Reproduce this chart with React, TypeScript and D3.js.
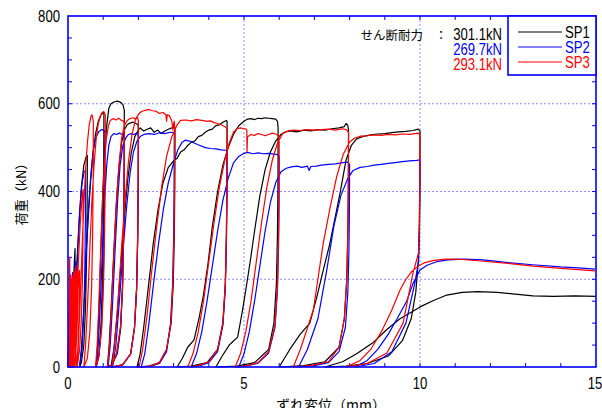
import React from 'react';
import * as d3 from 'd3';

type P = [number, number];

// ---- axis / label data ----
const xTicks = [0, 5, 10, 15];
const yTicks = [0, 200, 400, 600, 800];
const xMinorTicks = [1, 2, 3, 4, 5, 6, 7, 8, 9, 10, 11, 12, 13, 14];
const yMinorTicks = [50, 100, 150, 200, 250, 300, 350, 400, 450, 500, 550, 600, 650, 700, 750];
const xGrid = [5, 10];
const yGrid = [200, 400, 600];
const seriesNames = ['SP1', 'SP2', 'SP3'];
const seriesColors = ['#000000', '#0000ff', '#ff0000'];
const strengthLabel = 'せん断耐力';
const strengthValues = ['301.1kN', '269.7kN', '293.1kN'];
const xTitle = 'ずれ変位（mm）';
const yTitle = '荷重（kN）';

// ---- series: slip (mm), load (kN) ----
const sp1: P[] = [
  [0,0],[0.02,50],[0.04,100],[0.06,140],[0.07,160],[0.065,110],[0.05,50],[0.03,0],
  [0.05,50],[0.08,110],[0.1,160],[0.12,200],[0.115,140],[0.1,70],[0.07,0],
  [0.09,40],[0.12,110],[0.15,180],[0.18,240],[0.2,270],[0.195,190],[0.18,100],[0.14,30],[0.1,0],
  [0.14,50],[0.2,150],[0.26,250],[0.32,340],[0.38,410],[0.45,460],[0.52,480],[0.55,482],[0.545,380],[0.53,260],[0.5,140],[0.45,50],[0.38,10],[0.33,0],
  [0.38,40],[0.44,120],[0.5,220],[0.56,320],[0.63,410],[0.7,480],[0.78,530],[0.86,560],[0.94,575],[1.0,580],[1.02,578],[1.015,450],[1.0,320],[0.98,200],[0.94,100],[0.88,30],[0.8,0],
  [0.84,50],[0.89,150],[0.94,280],[0.99,400],[1.04,490],[1.1,550],[1.16,590],[1.22,600],[1.3,604],[1.4,606],[1.5,603],[1.56,598],[1.6,585],[1.595,450],[1.58,320],[1.55,190],[1.5,90],[1.4,30],[1.25,5],[1.12,0],
  [1.17,50],[1.23,140],[1.3,260],[1.37,370],[1.44,450],[1.52,510],[1.6,540],[1.68,552],[1.76,556],[1.85,558],[1.93,555],[1.99,552],[2.0,540],[1.995,420],[1.98,300],[1.95,180],[1.89,90],[1.78,30],[1.55,5],[1.22,0],
  [1.3,40],[1.4,120],[1.5,230],[1.6,340],[1.7,430],[1.8,490],[1.9,525],[2.0,540],[2.05,545],[2.15,538],[2.25,542],[2.35,545],[2.45,535],[2.55,540],[2.65,532],[2.75,538],[2.85,542],[2.95,545],[3.02,548],[3.04,540],[3.035,420],[3.02,300],[2.99,190],[2.93,100],[2.8,40],[2.6,10],[2.3,2],[1.96,0],
  [2.05,30],[2.15,90],[2.28,180],[2.42,280],[2.56,360],[2.7,420],[2.85,455],[3.0,470],[3.1,476],[3.2,490],[3.3,495],[3.4,505],[3.5,512],[3.6,515],[3.7,525],[3.8,528],[3.9,535],[4.0,540],[4.1,542],[4.2,550],[4.3,552],[4.4,558],[4.5,562],[4.52,560],[4.515,430],[4.5,300],[4.47,190],[4.4,100],[4.25,40],[3.95,10],[3.5,2],[3.1,0],
  [3.25,20],[3.4,45],[3.58,62],[3.72,110],[3.85,165],[3.98,237],[4.1,320],[4.25,400],[4.4,460],[4.55,500],[4.7,530],[4.85,550],[5.0,560],[5.1,565],[5.2,566],[5.3,564],[5.4,567],[5.5,566],[5.6,568],[5.7,567],[5.8,566],[5.9,565],[5.95,560],[5.97,545],[5.965,420],[5.95,300],[5.92,190],[5.85,100],[5.7,40],[5.3,10],[4.8,2],[4.2,0],
  [4.38,25],[4.58,50],[4.82,68],[4.96,130],[5.06,180],[5.17,237],[5.3,310],[5.45,390],[5.6,450],[5.75,490],[5.9,515],[6.05,530],[6.15,535],[6.3,538],[6.5,536],[6.7,540],[6.9,538],[7.1,541],[7.3,540],[7.5,543],[7.7,545],[7.85,548],[7.9,555],[7.95,550],[7.97,540],[7.965,420],[7.95,310],[7.92,200],[7.85,110],[7.7,45],[7.3,12],[6.7,3],[6.0,0],
  [6.3,40],[6.6,75],[6.87,100],[7.07,160],[7.25,220],[7.44,282],[7.6,345],[7.73,397],[7.9,472],[8.05,505],[8.2,520],[8.4,526],[8.6,529],[8.8,531],[9.0,532],[9.2,534],[9.4,536],[9.6,537],[9.8,539],[9.95,542],[10.0,538],[9.995,420],[9.98,320],[9.95,240],[9.88,170],[9.75,110],[9.5,60],[9.1,25],[8.5,8],[7.9,2],[7.3,0],
  [7.8,12],[8.2,30],[8.66,55],[9.05,85],[9.43,110],[9.75,125],[10.0,137],[10.4,152],[10.76,164],[11.2,170],[11.65,172],[12.2,170],[12.7,166],[13.21,162],[13.8,161],[14.4,162],[15.0,161],
];

const sp2: P[] = [
  [0,0],[0.02,60],[0.04,120],[0.06,170],[0.07,190],[0.065,130],[0.05,60],[0.03,0],
  [0.05,60],[0.08,130],[0.11,190],[0.13,215],[0.12,150],[0.1,70],[0.07,0],
  [0.1,60],[0.14,140],[0.18,210],[0.21,240],[0.2,170],[0.17,80],[0.13,0],
  [0.17,60],[0.22,160],[0.28,270],[0.34,360],[0.4,420],[0.46,445],[0.5,448],[0.495,340],[0.48,230],[0.45,120],[0.4,40],[0.33,0],
  [0.4,50],[0.46,150],[0.52,260],[0.58,360],[0.65,440],[0.72,495],[0.8,525],[0.88,537],[0.95,541],[1.02,540],[1.05,535],[1.045,420],[1.03,300],[1.0,190],[0.95,90],[0.88,25],[0.8,0],
  [0.86,50],[0.92,150],[0.98,270],[1.04,380],[1.1,460],[1.16,505],[1.22,525],[1.3,532],[1.38,530],[1.46,533],[1.54,530],[1.6,525],[1.595,410],[1.58,290],[1.55,180],[1.49,90],[1.38,30],[1.25,5],[1.14,0],
  [1.2,50],[1.27,150],[1.34,270],[1.41,380],[1.48,460],[1.56,505],[1.64,522],[1.72,530],[1.8,532],[1.88,530],[1.95,533],[2.0,528],[1.995,410],[1.98,290],[1.95,180],[1.89,90],[1.78,30],[1.55,5],[1.27,0],
  [1.36,50],[1.46,150],[1.56,260],[1.66,360],[1.76,440],[1.86,490],[1.96,515],[2.06,526],[2.16,530],[2.3,532],[2.45,530],[2.6,534],[2.75,532],[2.9,535],[2.98,534],[3.02,530],[3.015,410],[3.0,290],[2.97,185],[2.91,95],[2.8,35],[2.6,8],[2.35,2],[2.08,0],
  [2.18,30],[2.3,100],[2.43,190],[2.57,280],[2.71,360],[2.85,420],[3.0,465],[3.12,495],[3.24,512],[3.33,517],[3.45,515],[3.6,510],[3.75,505],[3.9,500],[4.05,498],[4.2,497],[4.35,495],[4.5,494],[4.52,490],[4.515,380],[4.5,280],[4.47,180],[4.4,95],[4.25,35],[4.0,10],[3.75,3],[3.5,0],
  [3.65,30],[3.8,80],[3.95,150],[4.1,230],[4.25,310],[4.4,380],[4.55,430],[4.7,465],[4.85,480],[5.0,487],[5.1,489],[5.25,486],[5.4,488],[5.55,486],[5.7,487],[5.85,485],[5.95,484],[6.0,480],[5.995,370],[5.98,270],[5.95,175],[5.88,90],[5.7,32],[5.4,9],[5.1,3],[4.85,0],
  [5.0,30],[5.15,80],[5.3,150],[5.45,230],[5.6,310],[5.75,375],[5.9,420],[6.05,445],[6.2,453],[6.35,456],[6.5,458],[6.65,455],[6.8,458],[6.85,448],[6.9,457],[7.05,458],[7.2,460],[7.4,462],[7.6,463],[7.8,466],[7.95,467],[8.0,462],[7.995,360],[7.98,260],[7.95,170],[7.88,90],[7.7,35],[7.4,10],[7.0,3],[6.55,0],
  [6.8,40],[7.1,110],[7.35,220],[7.55,320],[7.75,390],[7.95,430],[8.1,448],[8.3,455],[8.5,457],[8.7,460],[8.9,462],[9.1,464],[9.3,466],[9.5,468],[9.7,470],[9.9,471],[10.0,472],[9.995,380],[9.985,300],[9.96,240],[9.85,190],[9.6,100],[9.2,35],[8.7,8],[8.15,0],
  [8.5,15],[8.8,40],[9.1,75],[9.35,110],[9.62,150],[9.8,190],[10.0,221],[10.2,232],[10.47,240],[10.8,244],[11.22,246],[11.8,244],[12.5,238],[13.2,233],[14.0,228],[14.5,226],[14.97,223],
];

const sp3: P[] = [
  [0,0],[0.01,40],[0.02,80],[0.03,120],[0.04,160],[0.05,195],[0.045,140],[0.035,80],[0.02,20],[0.01,0],
  [0.02,30],[0.03,90],[0.04,150],[0.045,230],[0.05,250],[0.048,170],[0.04,90],[0.025,10],[0.015,0],
  [0.03,60],[0.05,130],[0.07,190],[0.08,210],[0.075,150],[0.06,80],[0.04,20],[0.03,0],
  [0.04,40],[0.06,100],[0.09,170],[0.1,200],[0.095,130],[0.08,60],[0.06,0],
  [0.05,50],[0.08,120],[0.11,180],[0.13,205],[0.12,140],[0.1,70],[0.08,20],[0.06,0],
  [0.07,50],[0.1,120],[0.13,180],[0.15,210],[0.145,140],[0.12,60],[0.1,0],
  [0.08,60],[0.11,130],[0.14,190],[0.17,215],[0.16,150],[0.14,80],[0.11,20],[0.09,0],
  [0.1,50],[0.13,120],[0.17,190],[0.2,220],[0.19,150],[0.17,70],[0.14,0],
  [0.12,70],[0.16,150],[0.2,210],[0.23,230],[0.22,160],[0.19,80],[0.15,20],[0.12,0],
  [0.15,60],[0.2,150],[0.25,210],[0.29,225],[0.28,150],[0.25,70],[0.2,15],[0.16,0],
  [0.18,50],[0.21,120],[0.25,190],[0.28,230],[0.27,150],[0.24,60],[0.2,0],
  [0.22,60],[0.26,140],[0.3,200],[0.33,220],[0.32,140],[0.29,60],[0.25,0],
  [0.2,60],[0.25,150],[0.3,250],[0.35,330],[0.4,390],[0.43,405],[0.425,300],[0.41,200],[0.38,110],[0.33,40],[0.26,0],
  [0.3,60],[0.35,160],[0.4,270],[0.45,370],[0.5,450],[0.55,510],[0.6,550],[0.65,570],[0.68,575],[0.7,568],[0.72,560],[0.715,430],[0.7,300],[0.67,180],[0.62,80],[0.55,20],[0.45,0],
  [0.5,50],[0.56,150],[0.62,270],[0.68,380],[0.74,460],[0.8,520],[0.86,555],[0.92,572],[0.97,580],[1.02,582],[1.06,575],[1.055,440],[1.04,310],[1.01,190],[0.96,90],[0.88,25],[0.78,0],
  [0.83,50],[0.88,150],[0.93,270],[0.98,380],[1.03,460],[1.09,520],[1.15,550],[1.2,562],[1.28,566],[1.36,563],[1.44,567],[1.52,562],[1.58,560],[1.6,555],[1.595,430],[1.58,300],[1.55,180],[1.49,90],[1.38,30],[1.25,5],[1.12,0],
  [1.18,50],[1.24,150],[1.31,270],[1.38,380],[1.45,460],[1.52,520],[1.6,550],[1.68,562],[1.76,566],[1.85,568],[1.93,565],[1.98,568],[2.0,560],[1.995,430],[1.98,300],[1.95,180],[1.89,90],[1.78,30],[1.55,5],[1.25,0],
  [1.32,50],[1.42,150],[1.52,270],[1.62,380],[1.72,470],[1.82,530],[1.92,565],[2.02,578],[2.1,583],[2.2,585],[2.3,587],[2.4,584],[2.5,583],[2.6,578],[2.7,580],[2.78,575],[2.8,560],[2.82,575],[2.88,573],[2.95,560],[2.98,540],[3.0,555],[3.02,560],[3.03,545],[3.025,420],[3.01,300],[2.98,190],[2.92,100],[2.8,40],[2.6,10],[2.35,2],[2.02,0],
  [2.12,40],[2.25,120],[2.38,220],[2.52,320],[2.66,410],[2.8,480],[2.95,525],[3.1,552],[3.2,562],[3.35,563],[3.5,561],[3.65,564],[3.8,562],[3.95,560],[4.05,561],[4.15,557],[4.25,555],[4.35,552],[4.45,548],[4.5,545],[4.52,540],[4.515,420],[4.5,300],[4.47,190],[4.4,100],[4.25,40],[4.0,12],[3.7,3],[3.4,0],
  [3.55,30],[3.7,80],[3.85,150],[4.0,240],[4.15,330],[4.3,410],[4.45,470],[4.58,510],[4.7,535],[4.8,543],[4.9,545],[5.0,543],[5.05,543],[5.08,540],[5.085,490],[5.1,525],[5.2,530],[5.3,528],[5.4,532],[5.5,530],[5.6,527],[5.7,530],[5.8,533],[5.9,531],[5.97,528],[6.0,520],[5.995,400],[5.98,290],[5.95,185],[5.88,95],[5.7,35],[5.4,10],[5.1,3],[4.75,0],
  [4.9,30],[5.05,80],[5.2,150],[5.35,240],[5.5,330],[5.65,410],[5.8,470],[5.95,510],[6.1,532],[6.25,538],[6.4,540],[6.6,539],[6.8,541],[7.0,540],[7.2,541],[7.4,542],[7.6,540],[7.8,543],[7.9,541],[7.97,535],[7.965,410],[7.95,300],[7.92,200],[7.85,110],[7.7,45],[7.4,12],[6.9,3],[6.4,0],
  [6.6,40],[6.97,130],[7.25,282],[7.45,365],[7.63,433],[7.82,485],[8.0,513],[8.15,522],[8.3,526],[8.5,527],[8.7,529],[8.9,528],[9.1,530],[9.3,529],[9.5,531],[9.7,530],[9.85,532],[9.95,533],[10.0,528],[9.995,420],[9.985,330],[9.96,260],[9.8,214],[9.52,100],[9.06,32],[8.5,8],[7.9,0],
  [8.3,15],[8.6,40],[8.9,80],[9.2,130],[9.43,175],[9.6,200],[9.76,217],[9.95,230],[10.14,238],[10.4,243],[10.71,246],[11.0,246],[11.22,245],[11.8,241],[12.5,236],[13.21,230],[14.0,225],[14.5,222],[14.97,219],
];

const seriesData: P[][] = [sp1, sp2, sp3];

const sans = '"Liberation Sans", Arial, sans-serif';
const cjk = '"Noto Sans CJK JP", "Noto Sans", sans-serif';

// narrow text: regular sans squeezed horizontally
function NText(props: { x: number; y: number; anchor?: string; size?: number; fill?: string; children: React.ReactNode }) {
  const { x, y, anchor = 'start', size = 16, fill = '#000', children } = props;
  return (
    <text transform={`translate(${x},${y}) scale(0.82,1)`} textAnchor={anchor as any}
      fontFamily={sans} fontSize={size} fill={fill}>{children}</text>
  );
}

export default function App() {
  const W = 602;
  const H = 408;
  const L = 68, R = 596, T = 16, B = 367;
  const x = d3.scaleLinear().domain([0, 15]).range([L, R]);
  const y = d3.scaleLinear().domain([0, 800]).range([B, T]);
  const line = d3.line<P>().x((d) => x(d[0])).y((d) => y(d[1]));
  const frame = '#0000ff';
  const grid = '#8e8eff';

  return (
    <svg width={W} height={H} viewBox={`0 0 ${W} ${H}`}
      style={{ position: 'absolute', left: 0, top: 0, background: '#ffffff' }}>
      <rect x={0} y={0} width={W} height={H} fill="#ffffff" />
      {yGrid.map((v) => (
        <line key={'gy' + v} x1={L} x2={R} y1={y(v)} y2={y(v)} stroke={grid} strokeWidth={1} strokeDasharray="2,2" />
      ))}
      {xGrid.map((v) => (
        <line key={'gx' + v} x1={x(v)} x2={x(v)} y1={T} y2={B} stroke={grid} strokeWidth={1} strokeDasharray="2,2" />
      ))}
      {xMinorTicks.map((v) => (
        <g key={'tx' + v}>
          <line x1={x(v)} x2={x(v)} y1={B} y2={B - 4} stroke={frame} strokeWidth={1} />
          <line x1={x(v)} x2={x(v)} y1={T} y2={T + 4} stroke={frame} strokeWidth={1} />
        </g>
      ))}
      {yMinorTicks.map((v) => (
        <g key={'ty' + v}>
          <line x1={L} x2={L + 4} y1={y(v)} y2={y(v)} stroke={frame} strokeWidth={1} />
          <line x1={R} x2={R - 4} y1={y(v)} y2={y(v)} stroke={frame} strokeWidth={1} />
        </g>
      ))}
      {seriesData.map((d, i) => (
        <path key={'s' + i} d={line(d) || ''} fill="none" stroke={seriesColors[i]} strokeWidth={1.2} strokeLinejoin="round" />
      ))}
      <rect x={L} y={T} width={R - L} height={B - T} fill="none" stroke={frame} strokeWidth={1.6} />
      {xTicks.map((v) => (
        <NText key={'lx' + v} x={v === 15 ? x(v) - 1 : x(v)} y={389} anchor="middle" size={16}>{v}</NText>
      ))}
      {yTicks.map((v) => (
        <NText key={'ly' + v} x={60} y={y(v) + 5.5} anchor="end" size={16}>{v}</NText>
      ))}
      <text x={331} y={410} textAnchor="middle" fontFamily={cjk} fontSize={14} fill="#000">{xTitle}</text>
      <text transform="translate(26,191) rotate(-90)" textAnchor="middle" fontFamily={cjk} fontSize={13} fill="#000">{yTitle}</text>
      <text x={423} y={40} textAnchor="end" fontFamily={cjk} fontSize={12.5} fill="#000">{strengthLabel}</text>
      <text x={441} y={40} textAnchor="middle" fontFamily={cjk} fontSize={12.5} fill="#000">：</text>
      {strengthValues.map((s, i) => (
        <NText key={'sv' + i} x={502} y={40 + i * 15} anchor="end" size={16} fill={seriesColors[i]}>{s}</NText>
      ))}
      <rect x={508} y={T} width={R - 508} height={59} fill="#ffffff" stroke={frame} strokeWidth={1.6} />
      {seriesNames.map((n, i) => (
        <g key={'lg' + n}>
          <line x1={518} x2={562} y1={32 + i * 15} y2={32 + i * 15} stroke={seriesColors[i]} strokeWidth={1.2} />
          <NText x={565} y={38 + i * 15} size={16} fill={seriesColors[i]}>{n}</NText>
        </g>
      ))}
    </svg>
  );
}
